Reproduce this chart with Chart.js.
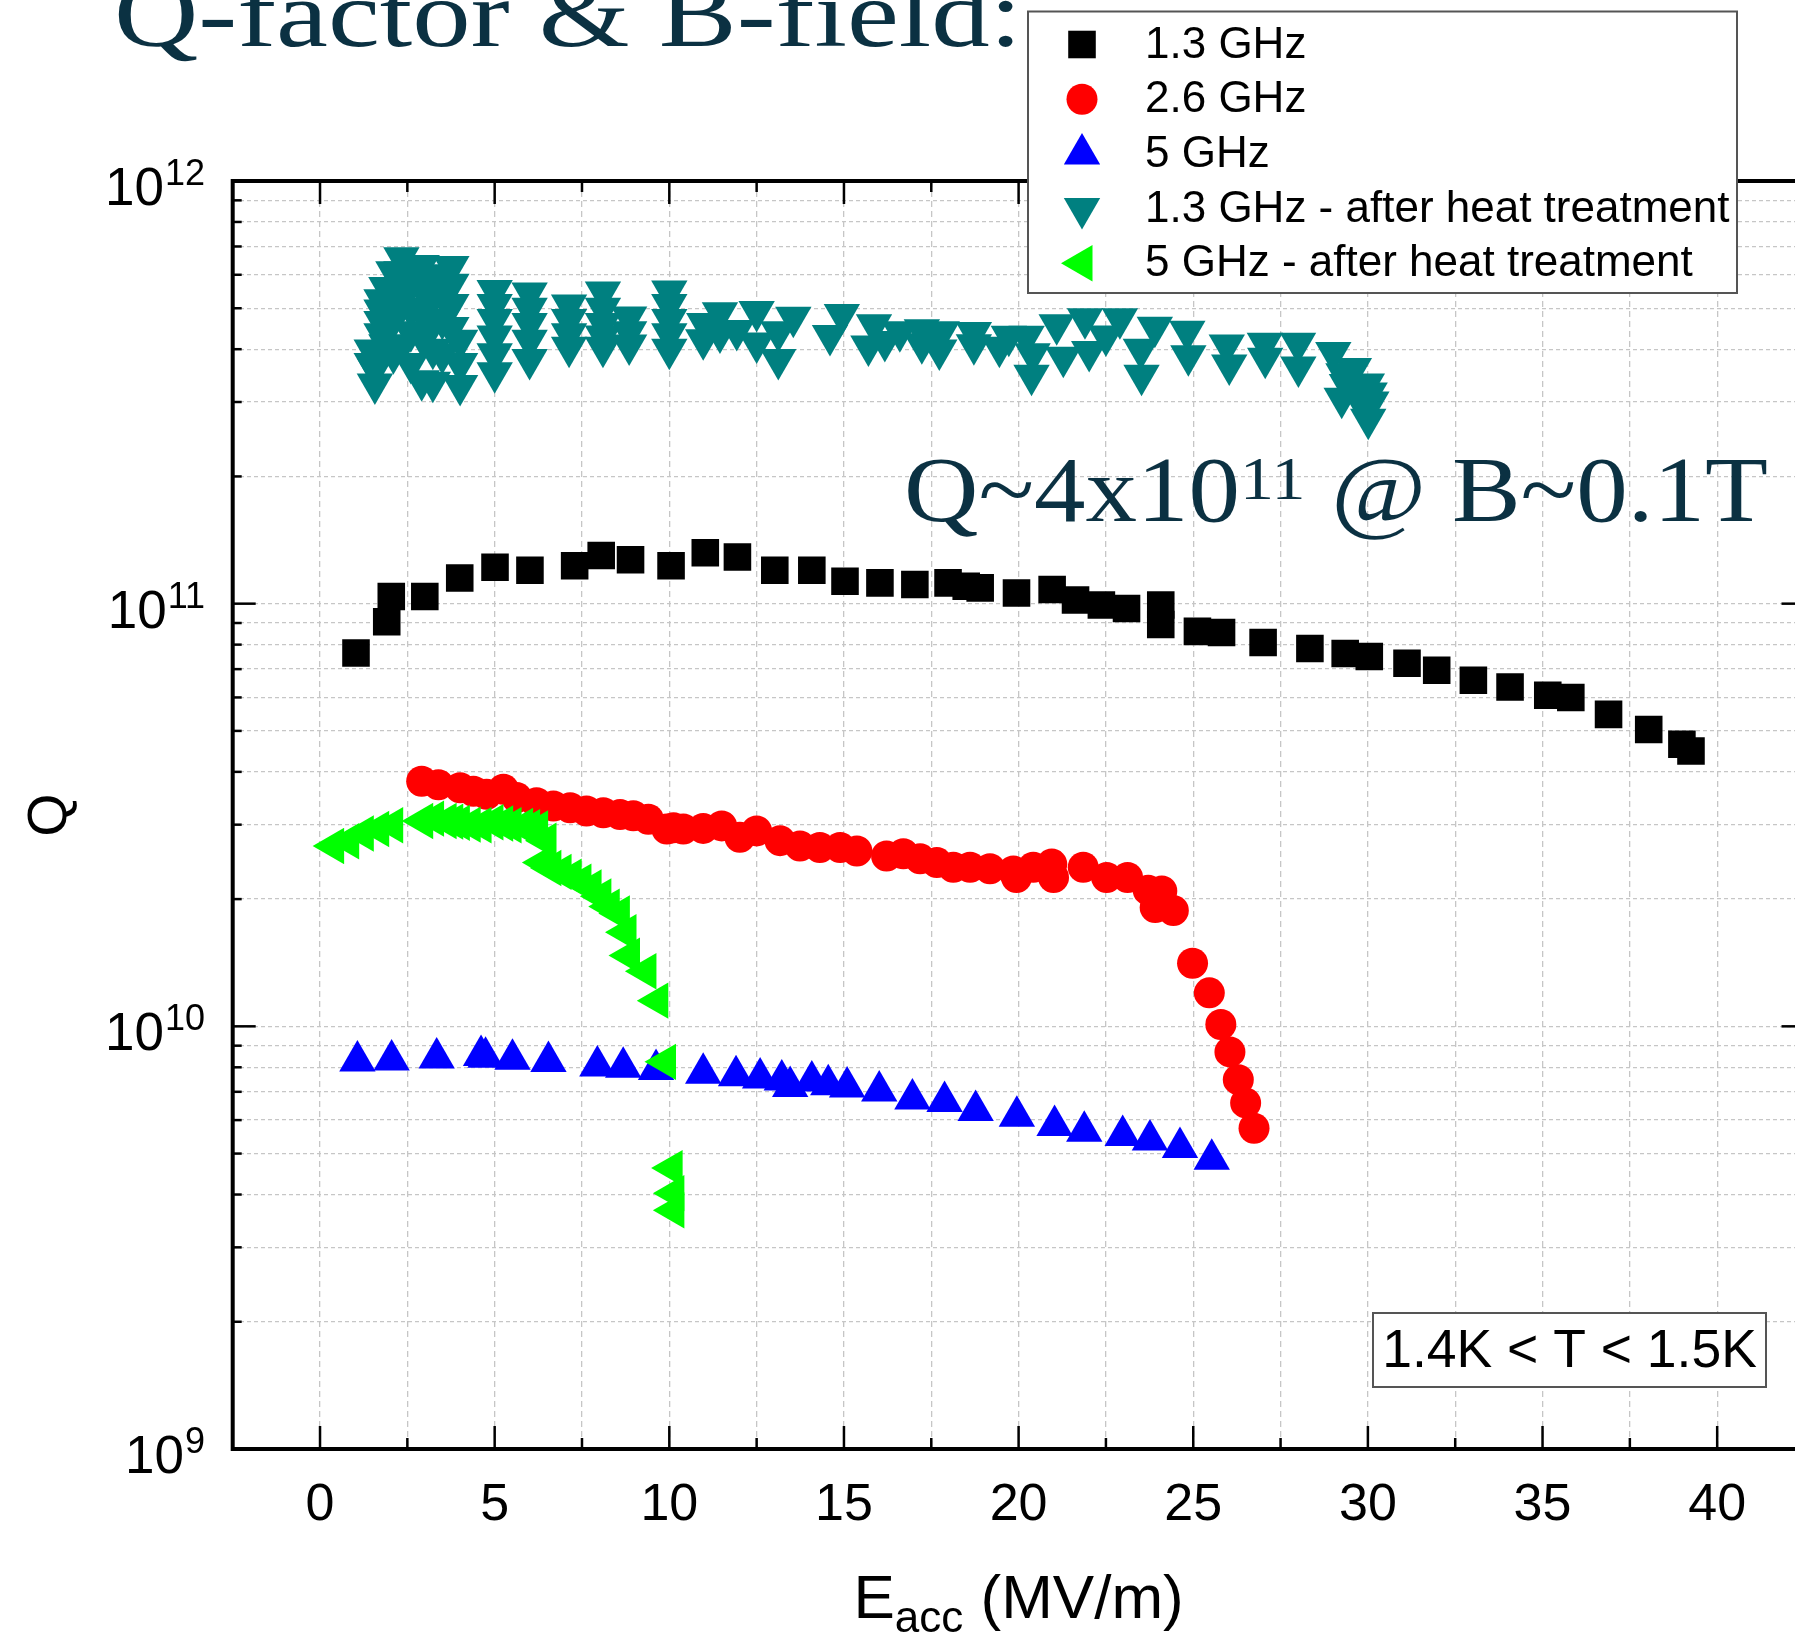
<!DOCTYPE html>
<html>
<head>
<meta charset="utf-8">
<title>Q-factor & B-field</title>
<script src="https://cdn.jsdelivr.net/npm/chart.js@4.4.0/dist/chart.umd.min.js"></script>
<style>
  html, body { margin: 0; padding: 0; background: #ffffff; overflow: hidden; }
  #wrap { position: relative; width: 1795px; height: 1638px; overflow: hidden; }
  #c { position: absolute; left: 0; top: 0; }
</style>
</head>
<body>
<div id="wrap"><canvas id="c" width="1830" height="1638"></canvas></div>
<script>
// ---- measured data: accelerating field E_acc (MV/m) and quality factor Q ----

// 1.3 GHz
const e13 = [1.03, 1.91, 2.04, 3.0, 4.0, 5.01, 6.01, 7.29, 8.05, 8.89, 10.05, 11.03, 11.95, 13.02, 14.08,
  15.03, 16.03, 17.03, 17.98, 18.5, 18.9, 19.94, 20.96, 21.63, 22.37, 23.09, 24.07, 24.07, 25.12, 25.81,
  27.0, 28.34, 29.35, 30.04, 31.12, 31.97, 33.02, 34.07, 35.15, 35.81, 36.89, 38.04, 38.99, 39.25];
const q13 = [7.64e10, 9.06e10, 1.04e11, 1.04e11, 1.15e11, 1.22e11, 1.20e11, 1.23e11, 1.30e11, 1.27e11,
  1.23e11, 1.32e11, 1.29e11, 1.20e11, 1.20e11, 1.13e11, 1.12e11, 1.11e11, 1.12e11, 1.10e11,
  1.09e11, 1.06e11, 1.08e11, 1.02e11, 9.93e10, 9.74e10, 9.93e10, 8.93e10, 8.60e10, 8.55e10,
  8.09e10, 7.83e10, 7.62e10, 7.50e10, 7.23e10, 6.96e10, 6.59e10, 6.35e10, 6.07e10, 6.00e10,
  5.47e10, 5.04e10, 4.65e10, 4.48e10];

// 2.6 GHz
const e26 = [2.91, 3.39, 4.01, 4.39, 4.77, 5.25, 5.63, 6.2, 6.68, 7.16, 7.63, 8.11, 8.59, 8.97, 9.4,
  9.93, 10.12, 10.4, 10.97, 11.5, 12.02, 12.5, 13.17, 13.74, 14.31, 14.89, 15.37, 16.22, 16.7, 17.18,
  17.66, 18.13, 18.61, 19.18, 19.85, 19.94, 20.42, 20.95, 21.0, 21.85, 22.52, 23.12, 23.71, 24.1, 23.91,
  24.43, 24.98, 25.46, 25.79, 26.05, 26.29, 26.5, 26.74];
const q26 = [3.80e10, 3.73e10, 3.67e10, 3.60e10, 3.54e10, 3.64e10, 3.48e10, 3.38e10, 3.32e10, 3.29e10,
  3.23e10, 3.20e10, 3.17e10, 3.15e10, 3.09e10, 2.93e10, 2.95e10, 2.93e10, 2.94e10, 2.98e10,
  2.80e10, 2.90e10, 2.75e10, 2.67e10, 2.65e10, 2.65e10, 2.60e10, 2.53e10, 2.56e10, 2.49e10,
  2.44e10, 2.38e10, 2.38e10, 2.36e10, 2.33e10, 2.25e10, 2.38e10, 2.42e10, 2.25e10, 2.38e10,
  2.25e10, 2.25e10, 2.10e10, 2.09e10, 1.91e10, 1.88e10, 1.41e10, 1.20e10, 1.01e10, 8.7e9,
  7.48e9, 6.59e9, 5.74e9];

// 5 GHz
const e50 = [1.07, 2.05, 3.34, 4.61, 4.74, 5.51, 6.54, 7.94, 8.68, 9.62, 10.97, 11.91, 12.6, 13.22, 13.46,
  14.08, 14.55, 15.09, 16.01, 16.96, 17.88, 18.77, 19.95, 21.03, 21.88, 22.98, 23.76, 24.62, 25.53];
const q50 = [8.28e9, 8.32e9, 8.42e9, 8.53e9, 8.45e9, 8.36e9, 8.26e9, 8.06e9, 8.0e9, 7.9e9,
  7.74e9, 7.64e9, 7.55e9, 7.47e9, 7.21e9, 7.42e9, 7.27e9, 7.19e9, 7.03e9, 6.73e9,
  6.64e9, 6.32e9, 6.13e9, 5.83e9, 5.65e9, 5.52e9, 5.38e9, 5.17e9, 4.85e9];

// 1.3 GHz - after heat treatment
const e13h = [
  1.48, 1.48, 1.57, 1.57,
  1.76, 1.76, 1.76, 1.76, 1.9, 1.9,
  2.1, 2.1, 2.1, 2.1,
  2.33, 2.33, 2.33, 2.33, 2.33,
  2.6, 2.6, 2.6, 2.6, 2.6,
  2.91, 2.91, 2.91, 2.91, 2.91,
  3.23, 3.23, 3.23, 3.23, 3.23,
  3.5, 3.5, 3.5, 3.5,
  3.76, 3.76, 3.76, 3.76,
  4.01, 4.01, 4.01,
  5.0, 5.0, 5.0, 5.0, 5.0, 5.0,
  6.0, 6.0, 6.0, 6.0, 6.0,
  7.13, 7.13, 7.13, 7.13,
  8.1, 8.1, 8.1, 8.1, 8.1,
  8.85, 8.85, 8.85,
  10.0, 10.0, 10.0, 10.0, 10.0,
  10.97, 11.0, 11.45, 11.45, 11.93, 12.5, 12.5, 13.12, 13.12, 13.55, 14.6, 14.94,
  15.7, 15.86, 16.17, 16.6, 17.23, 17.23, 17.73, 17.8, 18.72, 18.72, 19.45, 19.72, 20.23, 20.37, 20.4,
  21.09, 21.28, 21.9, 22.02, 22.5, 22.9, 23.52, 23.5, 23.9, 24.83, 24.86, 25.96, 26.03, 27.05, 27.06,
  28.0, 28.01, 29.01, 29.25, 29.3, 29.4, 29.6, 29.65, 29.8, 29.97, 30.01, 30.05, 30.1];
const q13h = [
  3.98e11, 3.7e11, 3.31e11, 3.6e11,
  5.24e11, 4.95e11, 4.65e11, 4.35e11, 5.6e11, 4.1e11,
  6.1e11, 5.4e11, 4.7e11, 3.9e11,
  6.58e11, 6.1e11, 5.7e11, 5.2e11, 4.08e11,
  6.3e11, 5.8e11, 5.0e11, 4.4e11, 3.7e11,
  6.31e11, 5.6e11, 4.9e11, 4.3e11, 3.37e11,
  5.9e11, 5.3e11, 4.6e11, 4.0e11, 3.34e11,
  6.0e11, 5.4e11, 4.7e11, 3.9e11,
  6.28e11, 5.7e11, 5.1e11, 4.5e11,
  4.2e11, 3.7e11, 3.28e11,
  5.51e11, 5.1e11, 4.7e11, 4.3e11, 3.9e11, 3.52e11,
  5.43e11, 5.0e11, 4.6e11, 4.2e11, 3.78e11,
  5.09e11, 4.7e11, 4.35e11, 4.04e11,
  5.46e11, 5.0e11, 4.6e11, 4.3e11, 4.04e11,
  4.77e11, 4.4e11, 4.09e11,
  5.49e11, 5.1e11, 4.7e11, 4.35e11, 4.0e11,
  4.21e11, 4.6e11, 4.88e11, 4.37e11, 4.43e11, 4.91e11, 4.14e11, 3.78e11, 4.4e11, 4.76e11, 4.31e11, 4.83e11,
  4.07e11, 4.57e11, 4.17e11, 4.4e11, 4.45e11, 4.12e11, 3.98e11, 4.4e11, 4.38e11, 4.1e11, 4.04e11, 4.29e11, 4.29e11, 3.47e11, 3.9e11,
  4.57e11, 3.83e11, 4.72e11, 3.95e11, 4.3e11, 4.72e11, 3.47e11, 4.0e11, 4.51e11, 4.41e11, 3.86e11, 4.09e11, 3.67e11, 4.13e11, 3.81e11,
  4.13e11, 3.63e11, 3.93e11, 3.06e11, 3.5e11, 3.3e11, 3.6e11, 3.2e11, 3.0e11, 3.31e11, 2.73e11, 3.15e11, 3.0e11];

// 5 GHz - after heat treatment
const e50h = [0.39, 0.82, 1.24, 1.68, 2.08, 2.94, 3.25, 3.61, 3.8, 3.99, 4.3, 4.61, 4.95, 5.23, 5.47, 5.8,
  6.0, 6.23, 6.47, 6.38, 6.61, 6.9, 7.19, 7.47, 7.76, 8.04, 8.28, 8.57, 8.76, 8.86, 9.33, 9.67,
  9.89, 10.08, 10.13, 10.13];
const q50h = [2.67e10, 2.74e10, 2.86e10, 2.93e10, 2.99e10, 3.06e10, 3.10e10, 3.06e10, 3.05e10, 3.03e10,
  3.0e10, 2.99e10, 3.04e10, 3.02e10, 2.99e10, 2.98e10, 2.96e10, 2.94e10, 2.75e10, 2.44e10,
  2.37e10, 2.32e10, 2.26e10, 2.20e10, 2.13e10, 2.03e10, 1.92e10, 1.85e10, 1.67e10, 1.47e10,
  1.35e10, 1.15e10, 8.24e9, 4.62e9, 4.03e9, 3.67e9];

// ---- axes ----
const xGridValues = [-2.5, 0, 2.5, 5, 7.5, 10, 12.5, 15, 17.5, 20, 22.5, 25, 27.5, 30, 32.5, 35, 37.5, 40, 42.5];
const xTickLabels = ['0', '5', '10', '15', '20', '25', '30', '35', '40'];
const xMajorValues = [0, 5, 10, 15, 20, 25, 30, 35, 40];
const yDecades = [1e9, 1e10, 1e11, 1e12];
const yDecadeExponents = ['9', '10', '11', '12'];
const yMinorFactors = [2, 3, 4, 5, 6, 7, 8, 9];

// ---- texts ----
const seriesLabels = ['1.3 GHz', '2.6 GHz', '5 GHz', '1.3 GHz - after heat treatment', '5 GHz - after heat treatment'];
const titleText = 'Q-factor & B-field:';
const noteParts = ['Q~4x10', '11', ' @ B~0.1T'];
const tempText = '1.4K < T < 1.5K';

const SANS = '"Liberation Sans", Arial, Helvetica, sans-serif';
const SERIF = '"Liberation Serif", "Times New Roman", serif';
const SLIDE_INK = '#0b3142';

const toPoints = (xs, ys) => xs.map((x, i) => ({ x: x, y: ys[i] }));

const yGridValues = [];
yDecades.forEach((d, i) => {
  yGridValues.push(d);
  if (i < yDecades.length - 1) yMinorFactors.forEach(f => yGridValues.push(f * d));
});

const markerStyles = [
  { color: '#000000', style: 'rect', rotation: 0, radius: 19.5 },
  { color: '#ff0000', style: 'circle', rotation: 0, radius: 15.5 },
  { color: '#0000ff', style: 'triangle', rotation: 0, radius: 21 },
  { color: '#008080', style: 'triangle', rotation: 180, radius: 21 },
  { color: '#00ff00', style: 'triangle', rotation: 270, radius: 21 }
];
const seriesData = [toPoints(e13, q13), toPoints(e26, q26), toPoints(e50, q50), toPoints(e13h, q13h), toPoints(e50h, q50h)];

const datasets = seriesData.map((pts, i) => ({
  label: seriesLabels[i],
  data: pts,
  order: 5 - i,
  showLine: false,
  pointStyle: markerStyles[i].style,
  pointRotation: markerStyles[i].rotation,
  pointRadius: markerStyles[i].radius,
  pointHoverRadius: markerStyles[i].radius,
  pointBackgroundColor: markerStyles[i].color,
  pointBorderColor: markerStyles[i].color,
  pointBorderWidth: 0,
  backgroundColor: markerStyles[i].color,
  borderColor: markerStyles[i].color
}));

function marker(ctx, st, x, y) {
  ctx.save();
  ctx.fillStyle = st.color;
  if (Chart.helpers && Chart.helpers.drawPoint) {
    Chart.helpers.drawPoint(ctx, { pointStyle: st.style, rotation: st.rotation, radius: st.radius, borderWidth: 0 }, x, y);
  } else {
    ctx.beginPath();
    ctx.arc(x, y, st.radius, 0, Math.PI * 2);
    ctx.fill();
  }
  ctx.restore();
}

function line(ctx, x1, y1, x2, y2) {
  ctx.beginPath();
  ctx.moveTo(x1, y1);
  ctx.lineTo(x2, y2);
  ctx.stroke();
}

// text drawn with a horizontal stretch so that it spans a given width
function stretchedText(ctx, parts, x0, baseline, targetWidth) {
  let total = 0;
  parts.forEach(p => { ctx.font = p.font; total += ctx.measureText(p.text).width; });
  const s = targetWidth / total;
  ctx.save();
  ctx.translate(x0, baseline);
  ctx.scale(s, 1);
  let x = 0;
  parts.forEach(p => {
    ctx.font = p.font;
    ctx.fillText(p.text, x, p.dy || 0);
    x += ctx.measureText(p.text).width;
  });
  ctx.restore();
}

const decorations = {
  id: 'decorations',
  afterDraw(chart) {
    const ctx = chart.ctx;
    const { left, right, top, bottom } = chart.chartArea;
    const xs = chart.scales.x, ys = chart.scales.y;

    ctx.save();
    ctx.strokeStyle = '#000';
    ctx.lineCap = 'butt';

    // inward ticks on all four sides
    ctx.lineWidth = 2.5;
    xGridValues.forEach(v => {
      if (v <= xs.min || v >= xs.max) return;
      const px = xs.getPixelForValue(v);
      const len = xMajorValues.includes(v) ? 23 : 11;
      line(ctx, px, bottom, px, bottom - len);
      line(ctx, px, top, px, top + len);
    });
    yGridValues.forEach(v => {
      if (v <= ys.min || v >= ys.max) return;
      const py = ys.getPixelForValue(v);
      const len = yDecades.includes(v) ? 23 : 9;
      line(ctx, left, py, left + len, py);
      line(ctx, right, py, right - len, py);
    });

    // axis frame
    ctx.lineWidth = 4;
    ctx.strokeRect(left, top, right - left, bottom - top);

    // y tick labels 10^n
    ctx.fillStyle = '#000';
    ctx.textBaseline = 'alphabetic';
    ctx.textAlign = 'right';
    yDecades.forEach((d, i) => {
      const py = ys.getPixelForValue(d);
      ctx.font = '36px ' + SANS;
      const sup = yDecadeExponents[i];
      const sw = ctx.measureText(sup).width;
      ctx.fillText(sup, 205, py + 4);
      ctx.font = '53px ' + SANS;
      ctx.fillText('10', 205 - sw - 1, py + 24);
    });

    // y axis title
    ctx.save();
    ctx.translate(51, (top + bottom) / 2);
    ctx.rotate(-Math.PI / 2);
    ctx.textAlign = 'center';
    ctx.textBaseline = 'middle';
    ctx.font = '55px ' + SANS;
    ctx.fillText('Q', 0, 0);
    ctx.restore();

    // x axis title E_acc (MV/m)
    {
      const mainFont = '62px ' + SANS, subFont = '44px ' + SANS;
      ctx.font = mainFont; const wE = ctx.measureText('E').width;
      ctx.font = subFont; const wSub = ctx.measureText('acc').width;
      ctx.font = mainFont; const wRest = ctx.measureText(' (MV/m)').width;
      const total = wE + wSub + wRest;
      let x = (left + right) / 2 - total / 2;
      const base = 1618;
      ctx.textAlign = 'left';
      ctx.font = mainFont; ctx.fillText('E', x, base); x += wE;
      ctx.font = subFont; ctx.fillText('acc', x, base + 14); x += wSub;
      ctx.font = mainFont; ctx.fillText(' (MV/m)', x, base);
    }

    // slide texts
    ctx.fillStyle = SLIDE_INK;
    ctx.textAlign = 'left';
    stretchedText(ctx, [{ text: titleText, font: '96px ' + SERIF }], 114, 46, 908);
    stretchedText(ctx, [
      { text: noteParts[0], font: '94px ' + SERIF },
      { text: noteParts[1], font: '62px ' + SERIF, dy: -22 },
      { text: noteParts[2], font: '94px ' + SERIF }
    ], 904, 521, 864);

    // temperature box
    ctx.fillStyle = '#fff';
    ctx.fillRect(1373, 1313, 393, 74);
    ctx.strokeStyle = '#555';
    ctx.lineWidth = 2;
    ctx.strokeRect(1373, 1313, 393, 74);
    ctx.fillStyle = '#000';
    ctx.font = '53.5px ' + SANS;
    ctx.textAlign = 'center';
    ctx.textBaseline = 'middle';
    ctx.fillText(tempText, 1569.5, 1352);

    // legend
    const lx = 1028, ly = 11.5, lw = 709, lh = 281.5;
    ctx.fillStyle = '#fff';
    ctx.fillRect(lx, ly, lw, lh);
    ctx.strokeStyle = '#555';
    ctx.lineWidth = 2;
    ctx.strokeRect(lx, ly, lw, lh);
    ctx.font = '44px ' + SANS;
    ctx.textAlign = 'left';
    ctx.textBaseline = 'middle';
    chart.data.datasets.forEach((ds, i) => {
      const rowY = ly + 33 + i * 54.7;
      marker(ctx, markerStyles[i], 1082, rowY);
      ctx.fillStyle = '#000';
      ctx.fillText(ds.label, 1145, rowY + 1);
    });

    ctx.restore();
  }
};

new Chart(document.getElementById('c').getContext('2d'), {
  type: 'scatter',
  data: { datasets: datasets },
  options: {
    responsive: false,
    animation: false,
    events: [],
    layout: { padding: { left: 0, right: 25.5, top: 181, bottom: 0 } },
    plugins: { legend: { display: false }, tooltip: { enabled: false } },
    scales: {
      x: {
        type: 'linear',
        min: -2.5,
        max: 42.5,
        afterBuildTicks: s => { s.ticks = xGridValues.map(v => ({ value: v })); },
        afterFit: s => { s.height = 189; },
        ticks: {
          autoSkip: false,
          maxRotation: 0,
          minRotation: 0,
          padding: 25,
          color: '#000',
          font: { family: SANS, size: 52 },
          callback: v => {
            const k = xMajorValues.indexOf(v);
            return k >= 0 ? xTickLabels[k] : '';
          }
        },
        grid: { color: '#c6c6c6', lineWidth: 1.3, drawTicks: false },
        border: { display: false, dash: [6, 4] }
      },
      y: {
        type: 'logarithmic',
        min: 1e9,
        max: 1e12,
        afterBuildTicks: s => { s.ticks = yGridValues.map(v => ({ value: v })); },
        afterFit: s => { s.width = 232.7; },
        ticks: { display: false, autoSkip: false },
        grid: { color: '#c6c6c6', lineWidth: 1.3, drawTicks: false },
        border: { display: false, dash: [4, 3] }
      }
    }
  },
  plugins: [decorations]
});
</script>
</body>
</html>
